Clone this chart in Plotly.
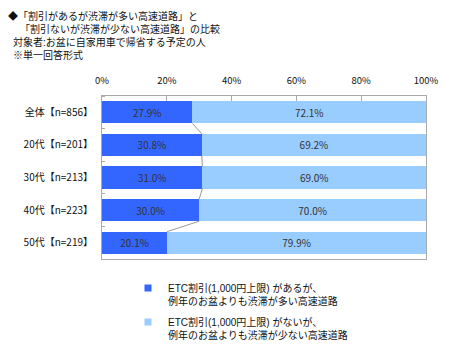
import plotly.graph_objects as go

categories = ["全体【n=856】", "20代【n=201】", "30代【n=213】", "40代【n=223】", "50代【n=219】"]
with_discount = [27.9, 30.8, 31.0, 30.0, 20.1]
without_discount = [72.1, 69.2, 69.0, 70.0, 79.9]
series_names = [
    "ETC割引(1,000円上限) があるが、<br>例年のお盆よりも渋滞が多い高速道路",
    "ETC割引(1,000円上限) がないが、<br>例年のお盆よりも渋滞が少ない高速道路",
]
x_ticks = [0, 20, 40, 60, 80, 100]
title_lines = [
    "◆「割引があるが渋滞が多い高速道路」と",
    "\u3000\u2009「割引ないが渋滞が少ない高速道路」の比較",
    "\u2002対象者:お盆に自家用車で帰省する予定の人",
    "\u2002※単一回答形式",
]

FONT = "Noto Sans CJK JP, Noto Sans, sans-serif"
TIGHT = "Liberation Sans, Noto Sans CJK JP, sans-serif"
DARK = "#3366FF"
LIGHT = "#99CCFF"
TXT = "#111111"
BAR_W = 0.68
ypos = list(range(len(categories)))

# the page body has an 8px default margin, so the figure is sized to the
# window minus that offset; all pixel numbers below are in figure coordinates
OFF = 8
W, H = 450 - OFF, 363 - OFF
L, T = 102 - OFF, 96 - OFF
R = W - (426 - OFF)
B = H - (259 - OFF)
PH = H - T - B
PW = W - L - R

fig = go.Figure()
fig.add_trace(go.Bar(
    y=ypos, x=with_discount, orientation="h", width=BAR_W,
    marker=dict(color=DARK, line=dict(width=0)),
    text=[f"{v:.1f}%" for v in with_discount], textposition="inside",
    insidetextanchor="middle", textfont=dict(color="#333333", size=10, family=FONT),
    showlegend=False, hoverinfo="skip",
))
fig.add_trace(go.Bar(
    y=ypos, x=without_discount, orientation="h", width=BAR_W,
    marker=dict(color=LIGHT, line=dict(width=0)),
    text=[f"{v:.1f}%" for v in without_discount], textposition="inside",
    insidetextanchor="middle", textfont=dict(color="#333333", size=10, family=FONT),
    showlegend=False, hoverinfo="skip",
))

# series connector lines
lx, ly = [], []
for i in range(len(with_discount) - 1):
    lx += [with_discount[i], with_discount[i + 1], None]
    ly += [ypos[i] + BAR_W / 2, ypos[i + 1] - BAR_W / 2, None]
fig.add_trace(go.Scatter(x=lx, y=ly, mode="lines", line=dict(color="#999999", width=1),
                         showlegend=False, hoverinfo="skip"))

# legend entries
for name, col, grp in zip(series_names, [DARK, LIGHT], ["a", "b"]):
    fig.add_trace(go.Scatter(x=[None], y=[None], mode="markers", name=name, legendgroup=grp,
                             marker=dict(symbol="square", size=7, color=col)))

fig.update_layout(
    barmode="stack",
    width=W, height=H,
    margin=dict(l=L, r=R, t=T, b=B, autoexpand=False),
    paper_bgcolor="white", plot_bgcolor="white",
    font=dict(family=FONT, size=10, color=TXT),
    legend=dict(x=120 / W, xanchor="left", xref="container",
                y=1 - 267 / H, yanchor="top", yref="container", valign="top",
                font=dict(size=10, family=TIGHT, color=TXT),
                tracegroupgap=5, itemsizing="trace", bgcolor="rgba(0,0,0,0)"),
    xaxis=dict(side="top", range=[0, 100], tickvals=x_ticks, ticktext=[f"{v}%" for v in x_ticks],
               showgrid=False, zeroline=False, showline=True, mirror=True, linecolor="#AAAAAA",
               linewidth=1, ticks="inside", ticklen=5, tickcolor="#AAAAAA", ticklabelstandoff=7,
               tickfont=dict(size=9.5, family=FONT, color=TXT), fixedrange=True),
    yaxis=dict(range=[len(categories) - 0.5, -0.5], tickvals=ypos, ticktext=categories,
               showgrid=False, zeroline=False, showline=True, mirror=True, linecolor="#AAAAAA",
               linewidth=1, ticks="", ticklabelstandoff=6,
               minor=dict(ticks="inside", tick0=0.5, dtick=1, ticklen=3, tickcolor="#AAAAAA", showgrid=False),
               tickfont=dict(size=10, family=FONT, color=TXT), fixedrange=True),
)

fig.add_annotation(text="<br>".join(title_lines), xref="paper", yref="paper",
                   x=(-2 - L) / PW, y=1 + (T - 0) / PH,
                   xanchor="left", yanchor="top", align="left", showarrow=False,
                   font=dict(size=10, family=TIGHT, color=TXT))

fig.write_html("out.html")
